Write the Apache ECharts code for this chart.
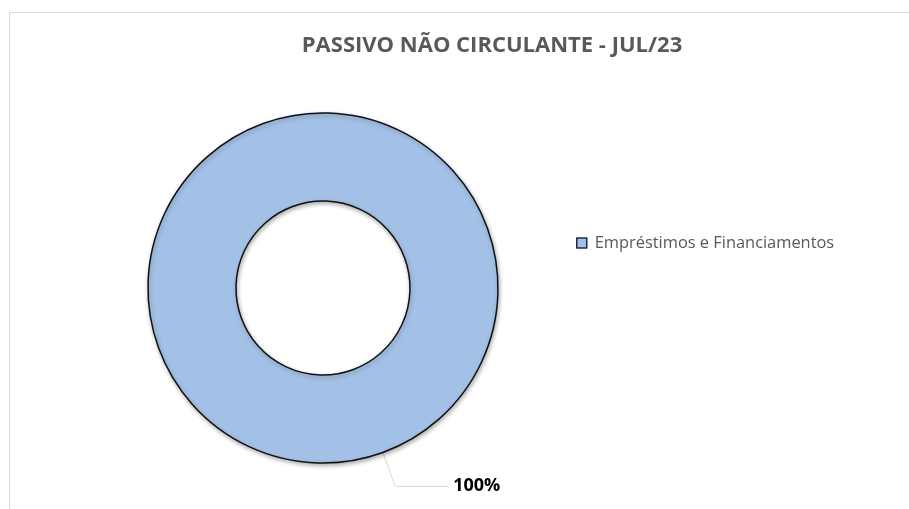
<!DOCTYPE html>
<html><head><meta charset="utf-8">
<script src="https://cdn.jsdelivr.net/npm/echarts@6/dist/echarts.min.js"></script>
<style>html,body{margin:0;padding:0;background:#fff}#c{width:909px;height:509px}</style>
</head><body><div id="c"></div>
<script>
const titleText = 'PASSIVO NÃO CIRCULANTE - JUL/23';
const categories = ['Empréstimos e Financiamentos'];
const values = [100];

const chart = echarts.init(document.getElementById('c'));
chart.setOption({
  backgroundColor: '#fff',
  animation: false,
  title: {
    text: titleText, left: 487, top: 30, textAlign: 'center',
    textStyle: { fontFamily: 'Open Sans', fontSize: 22, fontWeight: 'bold', color: '#595959' }
  },
  graphic: [{ type: 'rect', shape: { x: 9.5, y: 12.5, width: 920, height: 520 }, style: { fill: 'none', stroke: '#d9d9d9', lineWidth: 1 }, silent: true }],
  legend: {
    orient: 'vertical', left: 571, top: 230, icon: 'rect', itemWidth: 10, itemHeight: 10, itemGap: 6,
    textStyle: { fontFamily: 'Open Sans', fontSize: 16.4, color: '#595959', padding: [0, 0, 0, 3] },
    itemStyle: { borderColor: '#1f2a44', borderWidth: 1.5 },
    data: categories
  },
  series: [{
    type: 'pie', center: [323, 288], radius: [87, 175], startAngle: 110,
    itemStyle: { color: '#a3c1e7', borderColor: '#111', borderWidth: 1.5, shadowColor: 'rgba(0,0,0,0.3)', shadowBlur: 4, shadowOffsetX: 1, shadowOffsetY: 2 },
    label: { show: true, position: 'outside', formatter: '{c}%', fontFamily: 'Open Sans', fontSize: 18, fontWeight: 'bold', color: '#000' },
    labelLine: { show: true, length: 36, length2: 53, lineStyle: { color: '#d9d9d9', width: 1 } },
    emphasis: { disabled: true },
    data: categories.map((n, i) => ({ name: n, value: values[i] }))
  }]
});
</script></body></html>
